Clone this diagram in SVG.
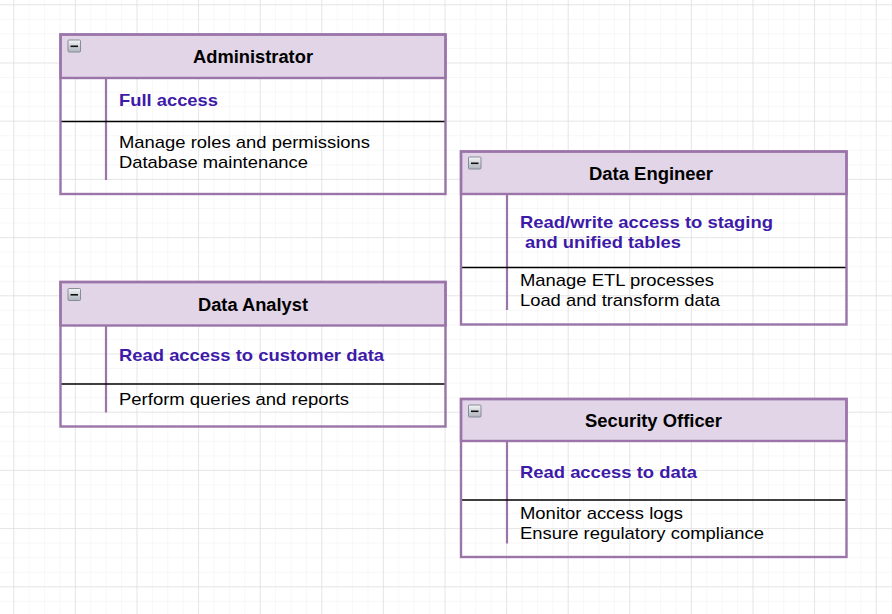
<svg xmlns="http://www.w3.org/2000/svg" width="892" height="614" viewBox="0 0 892 614">
<defs>
<pattern id="minor" x="13.3" y="4.3" width="15.4" height="14.55" patternUnits="userSpaceOnUse">
<path d="M0 0V14.55M0 0H15.4" fill="none" stroke="#efefef" stroke-width="1"/>
</pattern>
<pattern id="major" x="13.3" y="4.3" width="61.6" height="58.2" patternUnits="userSpaceOnUse">
<path d="M0 0V58.2M0 0H61.6" fill="none" stroke="#d6d6d6" stroke-width="1"/>
</pattern>
<linearGradient id="btn" x1="0" y1="0" x2="0" y2="1">
<stop offset="0" stop-color="#f4f5f7"/>
<stop offset="1" stop-color="#aeb4bc"/>
</linearGradient>
<g id="collapse">
<rect x="0.5" y="0.5" width="12.5" height="12" rx="1" fill="url(#btn)" stroke="#858d98" stroke-width="1"/>
<rect x="3" y="6" width="7.5" height="1.6" fill="#111"/>
</g>
</defs>
<style>
.frame{fill:none;stroke:#9b74aa;stroke-width:2.4}
.head{fill:#e1d5e7;stroke:#9b74aa;stroke-width:2.4}
.vl{stroke:#9b74aa;stroke-width:2.2}
.sep{stroke:#000;stroke-width:1.4}
text{font-family:"Liberation Sans",Arial,sans-serif}
.title{font-size:17.5px;font-weight:bold;fill:#000;text-anchor:middle}
.perm{font-size:17px;font-weight:bold;fill:#3d1aa8}
.body{font-size:17px;fill:#000}
</style>
<rect width="892" height="614" fill="#ffffff"/>
<rect width="892" height="614" fill="url(#minor)"/>
<rect width="892" height="614" fill="url(#major)"/>

<g id="administrator">
<rect class="head" x="60.5" y="34.5" width="385" height="43.5"/>
<line class="vl" x1="106" y1="78" x2="106" y2="180"/>
<line class="sep" x1="60" y1="121.5" x2="446" y2="121.5"/>
<rect class="frame" x="60.5" y="34.5" width="385" height="159.5"/>
<use href="#collapse" x="67.5" y="39.5"/>
<text class="title" x="253" y="63" textLength="120" lengthAdjust="spacingAndGlyphs">Administrator</text>
<text class="perm" x="119" y="106" textLength="99" lengthAdjust="spacingAndGlyphs">Full access</text>
<text class="body" x="119" y="148" textLength="251" lengthAdjust="spacingAndGlyphs">Manage roles and permissions</text>
<text class="body" x="119" y="168" textLength="189" lengthAdjust="spacingAndGlyphs">Database maintenance</text>
</g>

<g id="data-engineer">
<rect class="head" x="461" y="151.5" width="385.5" height="42.5"/>
<line class="vl" x1="507" y1="194" x2="507" y2="310"/>
<line class="sep" x1="461" y1="267.5" x2="847" y2="267.5"/>
<rect class="frame" x="461" y="151.5" width="385.5" height="173"/>
<use href="#collapse" x="468" y="156.5"/>
<text class="title" x="651" y="180" textLength="124" lengthAdjust="spacingAndGlyphs">Data Engineer</text>
<text class="perm" x="520" y="228" textLength="253" lengthAdjust="spacingAndGlyphs">Read/write access to staging</text>
<text class="perm" x="520" y="248" xml:space="preserve" textLength="161" lengthAdjust="spacingAndGlyphs"> and unified tables</text>
<text class="body" x="520" y="286" textLength="194" lengthAdjust="spacingAndGlyphs">Manage ETL processes</text>
<text class="body" x="520" y="306" textLength="200" lengthAdjust="spacingAndGlyphs">Load and transform data</text>
</g>

<g id="data-analyst">
<rect class="head" x="60.5" y="282" width="385" height="43.5"/>
<line class="vl" x1="106" y1="325.5" x2="106" y2="412.5"/>
<line class="sep" x1="60" y1="384" x2="446" y2="384"/>
<rect class="frame" x="60.5" y="282" width="385" height="144.5"/>
<use href="#collapse" x="67.5" y="288"/>
<text class="title" x="253" y="311" textLength="110" lengthAdjust="spacingAndGlyphs">Data Analyst</text>
<text class="perm" x="119" y="361" textLength="265" lengthAdjust="spacingAndGlyphs">Read access to customer data</text>
<text class="body" x="119" y="405" textLength="230" lengthAdjust="spacingAndGlyphs">Perform queries and reports</text>
</g>

<g id="security-officer">
<rect class="head" x="461" y="399" width="385.5" height="42"/>
<line class="vl" x1="507" y1="441" x2="507" y2="543.5"/>
<line class="sep" x1="461" y1="500" x2="847" y2="500"/>
<rect class="frame" x="461" y="399" width="385.5" height="158"/>
<use href="#collapse" x="468" y="404.5"/>
<text class="title" x="653.5" y="427" textLength="137" lengthAdjust="spacingAndGlyphs">Security Officer</text>
<text class="perm" x="520" y="478" textLength="177" lengthAdjust="spacingAndGlyphs">Read access to data</text>
<text class="body" x="520" y="519" textLength="163" lengthAdjust="spacingAndGlyphs">Monitor access logs</text>
<text class="body" x="520" y="539" textLength="244" lengthAdjust="spacingAndGlyphs">Ensure regulatory compliance</text>
</g>

<g id="connectors"></g>
</svg>
